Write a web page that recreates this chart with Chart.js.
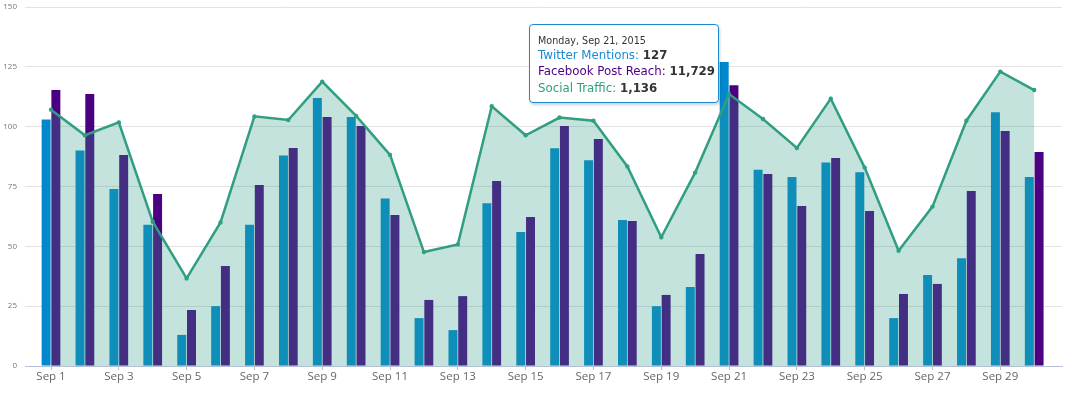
<!DOCTYPE html>
<html>
<head>
<meta charset="utf-8">
<title>Social media chart</title>
<script src="https://cdn.jsdelivr.net/npm/chart.js@4.4.0/dist/chart.umd.min.js"></script>
<style>
    html, body { margin: 0; padding: 0; background: #fff; }
    #wrap { position: relative; width: 1067px; height: 393px; }
    #tip {
        position: absolute;
        box-sizing: border-box;
        width: 190px;
        height: 79px;
        padding: 10px 8px 0 8px;
        background: #fff;
        border: 1px solid #1a8bd0;
        border-radius: 4px;
        box-shadow: 1px 2px 3px rgba(0, 0, 0, 0.18);
        font-family: "DejaVu Sans", sans-serif;
        color: #333;
        white-space: nowrap;
    }
    #tip .title { font-size: 9.6px; line-height: 12px; }
    #tip .row { font-size: 11.8px; line-height: 16.3px; }
    #tip b { font-weight: bold; color: #333; }
</style>
</head>
<body>
<div id="wrap">
    <canvas id="socialChart" width="1067" height="393"></canvas>
    <div id="tip"></div>
</div>
<script>
// 日期与数据
const days = ['Sep 1', 'Sep 2', 'Sep 3', 'Sep 4', 'Sep 5', 'Sep 6', 'Sep 7', 'Sep 8', 'Sep 9', 'Sep 10',
    'Sep 11', 'Sep 12', 'Sep 13', 'Sep 14', 'Sep 15', 'Sep 16', 'Sep 17', 'Sep 18', 'Sep 19', 'Sep 20',
    'Sep 21', 'Sep 22', 'Sep 23', 'Sep 24', 'Sep 25', 'Sep 26', 'Sep 27', 'Sep 28', 'Sep 29', 'Sep 30'];
const weekdays = ['Sunday', 'Monday', 'Tuesday', 'Wednesday', 'Thursday', 'Friday', 'Saturday'];
const year = 2015;

const twitterMentions = [103, 90, 74, 59, 13, 25, 59, 88, 112, 104, 70, 20, 15, 68, 56, 91, 86, 61, 25, 33,
    127, 82, 79, 85, 81, 20, 38, 45, 106, 79];
const facebookReach = [11530, 11360, 8820, 7190, 2340, 4180, 7560, 9110, 10400, 10030, 6310, 2760, 2920, 7730, 6230,
    10030, 9480, 6060, 2970, 4680, 11729, 8020, 6690, 8690, 6480, 3010, 3430, 7310, 9820, 8940];
const socialTraffic = [1071, 964, 1018, 603, 366, 600, 1043, 1028, 1188, 1045, 882, 476, 508, 1085, 964,
    1038, 1025, 834, 538, 808, 1136, 1032, 911, 1117, 829, 482, 666, 1025, 1230, 1153];

// 图上的缩放比例（Facebook /100，流量 /10）
const facebookScale = 100;
const trafficScale = 10;
const yTicks = [0, 25, 50, 75, 100, 125, 150];
const activeDay = 20;

const lineColor = '#2f9e82';
const twitterColor = '#0088cc';
const facebookColor = '#4b0082';

document.addEventListener('DOMContentLoaded', () => {
    const ctx = document.getElementById('socialChart').getContext('2d');
    const labelIdx = days.map((d, i) => i).filter(i => i % 2 === 0);

    const chart = new Chart(ctx, {
        data: {
            datasets: [{
                type: 'line',
                label: 'Social Traffic',
                data: socialTraffic.map((v, i) => ({ x: i, y: v / trafficScale })),
                borderColor: lineColor,
                backgroundColor: 'rgba(47, 158, 134, 0.29)',
                fill: 'origin',
                borderWidth: 2.5,
                tension: 0,
                pointRadius: 2.2,
                pointBorderWidth: 0,
                pointBackgroundColor: lineColor,
                pointHoverRadius: 5,
                pointHoverBorderWidth: 1.5,
                pointHoverBorderColor: '#d6ece6',
                pointHoverBackgroundColor: '#3aa88a',
                order: 0
            }, {
                type: 'bar',
                label: 'Twitter Mentions',
                data: twitterMentions.map((v, i) => ({ x: i, y: v })),
                backgroundColor: twitterColor,
                hoverBackgroundColor: twitterColor,
                categoryPercentage: 0.575,
                barPercentage: 0.92,
                order: 1
            }, {
                type: 'bar',
                label: 'Facebook Post Reach',
                data: facebookReach.map((v, i) => ({ x: i, y: v / facebookScale })),
                backgroundColor: facebookColor,
                hoverBackgroundColor: facebookColor,
                categoryPercentage: 0.575,
                barPercentage: 0.92,
                order: 1
            }]
        },
        options: {
            responsive: false,
            animation: false,
            events: [],
            layout: { padding: { top: 7, right: 5, left: 0, bottom: 0 } },
            plugins: {
                legend: { display: false },
                tooltip: { enabled: false }
            },
            scales: {
                x: {
                    type: 'linear',
                    offset: false,
                    min: -0.767,
                    max: 29.82,
                    afterBuildTicks: s => { s.ticks = labelIdx.map(v => ({ value: v })); },
                    afterFit: s => { s.height = 27; s.paddingLeft = 0; s.paddingRight = 0; },
                    ticks: {
                        autoSkip: false,
                        maxRotation: 0,
                        padding: 0,
                        color: '#666',
                        font: { family: 'Open Sans', size: 11.5 },
                        callback: v => days[v]
                    },
                    grid: { offset: false, drawOnChartArea: false, drawTicks: true, tickLength: 4, color: '#b3c0d3' },
                    border: { color: '#b3c0d3', width: 1 }
                },
                y: {
                    min: 0,
                    max: 150,
                    afterBuildTicks: s => { s.ticks = yTicks.map(v => ({ value: v })); },
                    afterFit: s => { s.width = 25; s.paddingTop = 0; s.paddingBottom = 0; },
                    ticks: {
                        padding: 8,
                        color: '#777',
                        font: { family: 'Open Sans', size: 8 }
                    },
                    grid: { color: '#e2e2e2', drawTicks: false },
                    border: { display: false }
                }
            }
        }
    });

    // 悬停状态：9月21日
    chart.setActiveElements([{ datasetIndex: 0, index: activeDay }]);

    const px = chart.scales.x.getPixelForValue(activeDay);
    const py = chart.scales.y.getPixelForValue(socialTraffic[activeDay] / trafficScale);
    const date = new Date(year, 8, activeDay + 1);
    const tip = document.getElementById('tip');
    tip.innerHTML =
        '<div class="title">' + weekdays[date.getDay()] + ', ' + days[activeDay] + ', ' + year + '</div>' +
        '<div class="row"><span style="color:#1a8ad0">Twitter Mentions:</span> <b>' + twitterMentions[activeDay].toLocaleString('en-US') + '</b></div>' +
        '<div class="row"><span style="color:' + facebookColor + '">Facebook Post Reach:</span> <b>' + facebookReach[activeDay].toLocaleString('en-US') + '</b></div>' +
        '<div class="row"><span style="color:' + lineColor + '">Social Traffic:</span> <b>' + socialTraffic[activeDay].toLocaleString('en-US') + '</b></div>';
    tip.style.left = (px - 200) + 'px';
    tip.style.top = (py - 70) + 'px';
});
</script>
</body>
</html>
